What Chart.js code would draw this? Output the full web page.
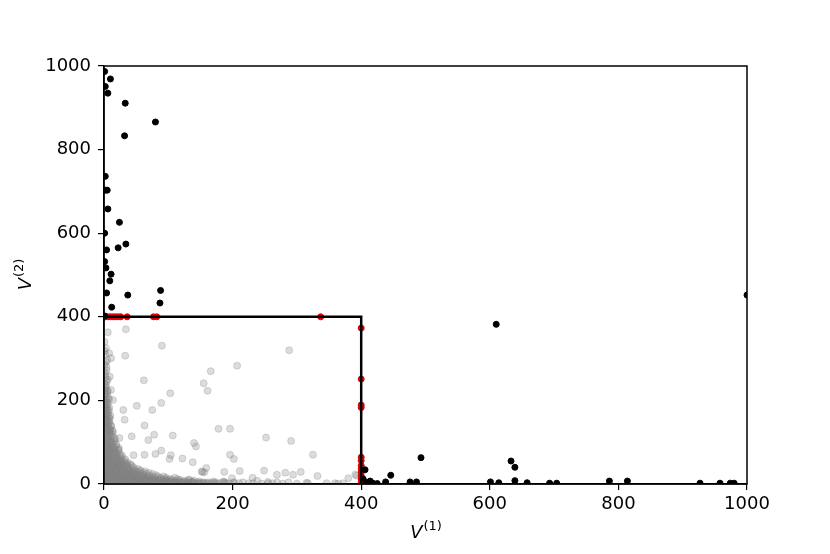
<!DOCTYPE html>
<html>
<head>
<meta charset="utf-8">
<script src="https://cdn.jsdelivr.net/npm/chart.js@4.4.1/dist/chart.umd.min.js"></script>
<style>
  body { margin: 0; background: #fff; }
  canvas { display: block; }
</style>
</head>
<body>
<canvas id="chart" width="830" height="554"></canvas>
<script>
// axis ticks
const xTicks = [0, 200, 400, 600, 800, 1000];
const yTicks = [0, 200, 400, 600, 800, 1000];

// boundary of the box (V1 <= 400, V2 <= 400)
const boxLine = [[0, 400], [400, 400], [400, 0]];

// points outside the box
const blackPoints = [
    [1, 987], [10, 969], [2, 951], [6, 935], [33, 911], [80, 866], [32, 833],
    [2, 736], [2, 703], [5, 703], [6, 658], [24, 626], [1, 600], [4, 560],
    [22, 565], [34, 574], [1, 532], [3, 517], [11, 502], [9, 486], [4, 457],
    [37, 452], [88, 463], [87, 433], [12, 423], [1, 402],
    [493, 63], [610, 382], [633, 55], [639, 40], [476, 5], [486, 5], [601, 5],
    [614, 3], [639, 8], [658, 3], [693, 2], [704, 2], [786, 7], [814, 7],
    [927, 2], [958, 2], [974, 2], [980, 2], [1000, 452], [406, 34], [446, 21],
    [414, 7], [418, 2], [438, 5], [403, 12], [408, 4], [425, 1]
];

// points on the box edge
const redPoints = [
    [2, 400], [6, 400], [10, 400], [14, 400], [18, 400], [22, 400], [26, 400],
    [36, 400], [77, 400], [82, 400], [337, 400],
    [400, 373], [400, 251], [400, 189], [400, 183], [400, 64], [400, 56],
    [400, 44], [400, 36], [400, 28], [400, 20], [400, 12], [400, 5]
];

// points inside the box, scattered ones
const grayPoints = [
    [6, 363], [34, 370], [90, 331], [33, 307], [288, 320], [207, 283], [166, 270],
    [62, 248], [155, 241], [161, 223], [103, 217], [89, 194], [51, 187], [75, 177],
    [178, 132], [196, 132], [63, 140], [107, 116], [78, 118], [69, 105], [252, 111],
    [291, 103], [140, 98], [143, 90], [325, 70], [196, 70], [202, 60], [122, 61],
    [63, 70], [46, 69], [104, 69], [249, 32], [211, 31], [187, 29], [153, 29],
    [138, 52], [269, 22], [282, 27], [306, 29], [294, 22], [391, 23], [380, 14],
    [317, 2], [359, 2], [372, 2], [238, 8], [255, 5], [269, 4], [287, 4], [216, 4],
    [202, 3], [185, 4], [8, 313], [11, 301], [9, 257], [11, 225], [14, 201],
    [30, 177], [32, 154], [43, 114], [24, 110], [89, 80], [80, 72], [102, 60],
    [159, 38], [156, 28], [133, 10], [155, 3], [332, 19], [231, 15], [199, 14],
    [149, 2], [170, 3], [315, 3], [346, 2], [364, 1], [152, 30], [393, 20],
    [1, 340], [3, 325], [2, 310], [5, 296], [1, 285], [4, 272], [2, 262], [6, 250],
    [1, 240], [3, 232], [5, 222], [2, 214], [7, 206], [1, 198], [4, 190], [2, 182],
    [6, 175], [3, 168], [1, 160], [5, 153], [8, 147], [2, 140], [4, 133], [7, 127],
    [1, 120], [3, 114], [6, 108], [9, 102], [2, 96], [5, 90], [8, 85], [11, 80],
    [1, 75], [4, 70], [7, 65], [10, 60], [13, 56], [2, 52], [5, 48], [8, 44],
    [12, 40], [15, 37], [1, 33], [4, 29], [7, 26], [10, 23], [14, 20], [18, 18],
    [2, 15], [5, 12], [9, 10], [13, 8], [17, 6], [21, 4], [1, 3], [4, 6], [7, 2],
    [3, 20], [6, 38], [3, 58], [6, 82], [3, 100], [9, 120], [11, 140], [3, 178],
    [8, 160], [12, 100], [15, 88], [18, 76], [14, 68], [20, 62], [17, 50], [22, 45],
    [25, 38], [20, 30], [26, 26], [30, 22], [24, 15], [28, 10], [33, 8], [36, 14],
    [40, 5], [44, 10], [48, 3], [52, 7], [56, 2], [60, 5], [64, 1], [30, 32],
    [35, 28], [38, 20], [42, 16], [27, 55], [32, 42], [16, 110], [13, 128],
    [19, 95], [23, 82], [28, 68], [35, 48], [45, 25], [50, 18], [55, 12], [62, 9],
    [68, 4], [72, 2], [76, 6], [82, 3], [88, 1], [94, 4], [100, 2], [108, 5],
    [115, 1], [122, 3], [130, 2], [138, 4], [145, 1], [160, 2], [175, 1], [190, 2],
    [225, 2], [245, 1], [262, 2], [278, 1], [300, 1], [10, 130], [6, 135], [12, 90],
    [16, 72], [21, 55], [11, 48], [16, 42], [9, 34], [12, 28], [17, 24], [22, 20],
    [9, 16], [14, 13], [19, 10], [24, 6], [29, 3], [34, 2], [38, 9], [44, 3],
    [58, 14], [66, 11], [40, 30], [48, 22], [18, 36], [24, 48]
];

// points inside the box, dense cluster near the origin
const grayCore = [
    [3, 2], [11, 2], [19, 2], [27, 2], [35, 2], [43, 2], [51, 2], [59, 2], [67, 2],
    [75, 2], [83, 2], [91, 2], [99, 2], [107, 2], [113, 2], [121, 2], [127, 2],
    [134, 2], [141, 2], [150, 2], [158, 2], [166, 2], [180, 2], [195, 2], [210, 2],
    [232, 2], [255, 2],
    [2, 6], [9, 6], [16, 6], [23, 6], [31, 6], [38, 6], [46, 6], [53, 6], [61, 6],
    [69, 6], [77, 6], [85, 6], [93, 6], [101, 6], [111, 6], [119, 6], [128, 6],
    [137, 6], [148, 6], [170, 6], [186, 6],
    [1, 10], [8, 10], [15, 10], [22, 10], [30, 10], [37, 10], [45, 10], [53, 10],
    [60, 10], [68, 10], [75, 10], [83, 10], [91, 10], [98, 10], [106, 10], [118, 10],
    [131, 10],
    [3, 15], [10, 15], [17, 15], [25, 15], [32, 15], [40, 15], [47, 15], [55, 15],
    [63, 15], [71, 15], [79, 15], [88, 15], [97, 15], [110, 15],
    [2, 21], [9, 21], [16, 21], [24, 21], [31, 21], [39, 21], [46, 21], [54, 21],
    [62, 21], [70, 21], [81, 21],
    [1, 27], [7, 27], [14, 27], [21, 27], [28, 27], [36, 27], [44, 27], [52, 27],
    [61, 27], [70, 27],
    [3, 33], [10, 33], [18, 33], [26, 33], [34, 33], [42, 33], [50, 33], [57, 33],
    [1, 40], [8, 40], [15, 40], [22, 40], [30, 40], [38, 40], [46, 40],
    [4, 47], [11, 47], [18, 47], [26, 47], [34, 47], [41, 47],
    [2, 55], [9, 55], [16, 55], [24, 55], [32, 55],
    [1, 63], [7, 63], [14, 63], [21, 63], [28, 63],
    [3, 72], [10, 72], [17, 72], [25, 72],
    [1, 81], [8, 81], [15, 81], [22, 81],
    [4, 91], [11, 91], [19, 91],
    [2, 102], [9, 102], [16, 102],
    [1, 113], [6, 113], [12, 113],
    [3, 125], [9, 125], [14, 125],
    [1, 138], [6, 138], [11, 138],
    [3, 150], [8, 150],
    [1, 163], [6, 163], [10, 163],
    [3, 176], [8, 176],
    [1, 189], [6, 189],
    [3, 202], [8, 202],
    [1, 216], [5, 216],
    [2, 230], [4, 246], [1, 268], [3, 292], [1, 318],
    [6, 4], [14, 4], [22, 4], [30, 4], [39, 4], [47, 4], [55, 4], [63, 4], [71, 4],
    [79, 4], [87, 4], [95, 4], [103, 4], [110, 4], [117, 4], [124, 4], [131, 4],
    [138, 4], [145, 4], [154, 4], [162, 4], [174, 4], [188, 4], [202, 4],
    [5, 8], [12, 8], [19, 8], [27, 8], [34, 8], [42, 8], [49, 8], [57, 8], [64, 8],
    [72, 8], [80, 8], [88, 8], [96, 8], [104, 8], [114, 8], [124, 8], [140, 8],
    [4, 12], [11, 12], [19, 12], [26, 12], [34, 12], [41, 12], [49, 12], [57, 12],
    [64, 12], [72, 12], [79, 12], [87, 12], [95, 12], [103, 12], [114, 12],
    [6, 18], [13, 18], [21, 18], [28, 18], [36, 18], [43, 18], [51, 18], [59, 18],
    [67, 18], [75, 18], [84, 18], [93, 18],
    [5, 24], [12, 24], [19, 24], [27, 24], [34, 24], [42, 24], [50, 24], [58, 24],
    [66, 24], [76, 24],
    [4, 30], [11, 30], [18, 30], [25, 30], [32, 30], [40, 30], [48, 30], [56, 30],
    [64, 30],
    [6, 36], [13, 36], [21, 36], [29, 36], [37, 36], [45, 36], [53, 36],
    [5, 44], [12, 44], [19, 44], [27, 44], [35, 44], [43, 44],
    [3, 51], [8, 51], [14, 51], [21, 51], [29, 51], [37, 51],
    [5, 59], [12, 59], [19, 59], [26, 59], [33, 59],
    [4, 67], [11, 67], [18, 67], [24, 67],
    [2, 76], [6, 76], [13, 76], [20, 76],
    [3, 86], [9, 86], [16, 86], [23, 86],
    [1, 96], [7, 96], [14, 96],
    [4, 107], [11, 107], [17, 107],
    [2, 119], [8, 119], [13, 119],
    [4, 131], [9, 131],
    [2, 144], [7, 144],
    [1, 156], [5, 156], [9, 156],
    [2, 170], [6, 170],
    [4, 183], [8, 183],
    [2, 196], [5, 196],
    [3, 209], [1, 223], [6, 223], [3, 238], [2, 255], [4, 280]
];

const toXY = arr => arr.map(p => ({ x: p[0], y: p[1] }));
const FONT = "'DejaVu Sans', sans-serif";
const GRAY = 'rgba(128,128,128,0.28)';

// frame on all four sides + axis titles with superscripts
const framePlugin = {
    id: 'frame',
    afterDraw(chart) {
        const { ctx, chartArea: a } = chart;
        ctx.save();
        ctx.strokeStyle = '#000';
        ctx.lineWidth = 1.5;
        ctx.strokeRect(a.left, a.top, a.right - a.left, a.bottom - a.top);

        function label(main, sup, cx, cy, rotate) {
            ctx.save();
            ctx.translate(cx, cy);
            if (rotate) ctx.rotate(-Math.PI / 2);
            ctx.fillStyle = '#000';
            ctx.textBaseline = 'alphabetic';
            ctx.textAlign = 'left';
            ctx.font = 'italic 18px ' + FONT;
            const w1 = ctx.measureText(main).width;
            ctx.font = '13px ' + FONT;
            const w2 = ctx.measureText(sup).width;
            const x0 = -(w1 + w2) / 2;
            ctx.font = 'italic 18px ' + FONT;
            ctx.fillText(main, x0, 0);
            ctx.font = '13px ' + FONT;
            ctx.fillText(sup, x0 + w1 + 1, -8);
            ctx.restore();
        }
        label('V', '(1)', (a.left + a.right) / 2, 538, false);
        label('V', '(2)', 31, (a.top + a.bottom) / 2, true);
        ctx.restore();
    }
};

function axisOpts(ticks, pad, fit) {
    return {
        type: 'linear',
        min: 0,
        max: 1000,
        afterFit: fit,
        afterBuildTicks: s => { s.ticks = ticks.map(v => ({ value: v })); },
        grid: { drawOnChartArea: false, drawTicks: true, tickLength: 6, color: '#000', lineWidth: 1.2 },
        border: { display: true, color: '#000', width: 1.5 },
        ticks: {
            color: '#000',
            padding: pad,
            maxRotation: 0,
            font: { family: FONT, size: 18 },
            callback: v => String(v)
        }
    };
}

new Chart(document.getElementById('chart'), {
    type: 'scatter',
    data: {
        datasets: [
            {
                data: toXY(boxLine),
                showLine: true,
                borderColor: '#000',
                borderWidth: 2.5,
                pointRadius: 0,
                fill: false,
                order: 0
            },
            {
                data: toXY(blackPoints),
                backgroundColor: '#000',
                borderColor: '#000',
                borderWidth: 1,
                pointRadius: 3,
                order: 1
            },
            {
                data: toXY(redPoints),
                backgroundColor: '#e00000',
                borderColor: '#e00000',
                borderWidth: 1,
                pointRadius: 3,
                order: 2
            },
            {
                data: toXY(grayPoints),
                backgroundColor: GRAY,
                borderColor: GRAY,
                borderWidth: 1,
                pointRadius: 3.5,
                order: 3
            },
            {
                data: toXY(grayCore),
                backgroundColor: GRAY,
                borderColor: GRAY,
                borderWidth: 1,
                pointRadius: 3.5,
                order: 4
            }
        ]
    },
    options: {
        responsive: false,
        animation: false,
        layout: { padding: { left: 0, top: 66, right: 83, bottom: 0 } },
        plugins: {
            legend: { display: false },
            tooltip: { enabled: false }
        },
        scales: {
            x: axisOpts(xTicks, 4, s => { s.height = 70; }),
            y: axisOpts(yTicks, 7, s => { s.width = 104; })
        }
    },
    plugins: [framePlugin]
});
</script>
</body>
</html>
